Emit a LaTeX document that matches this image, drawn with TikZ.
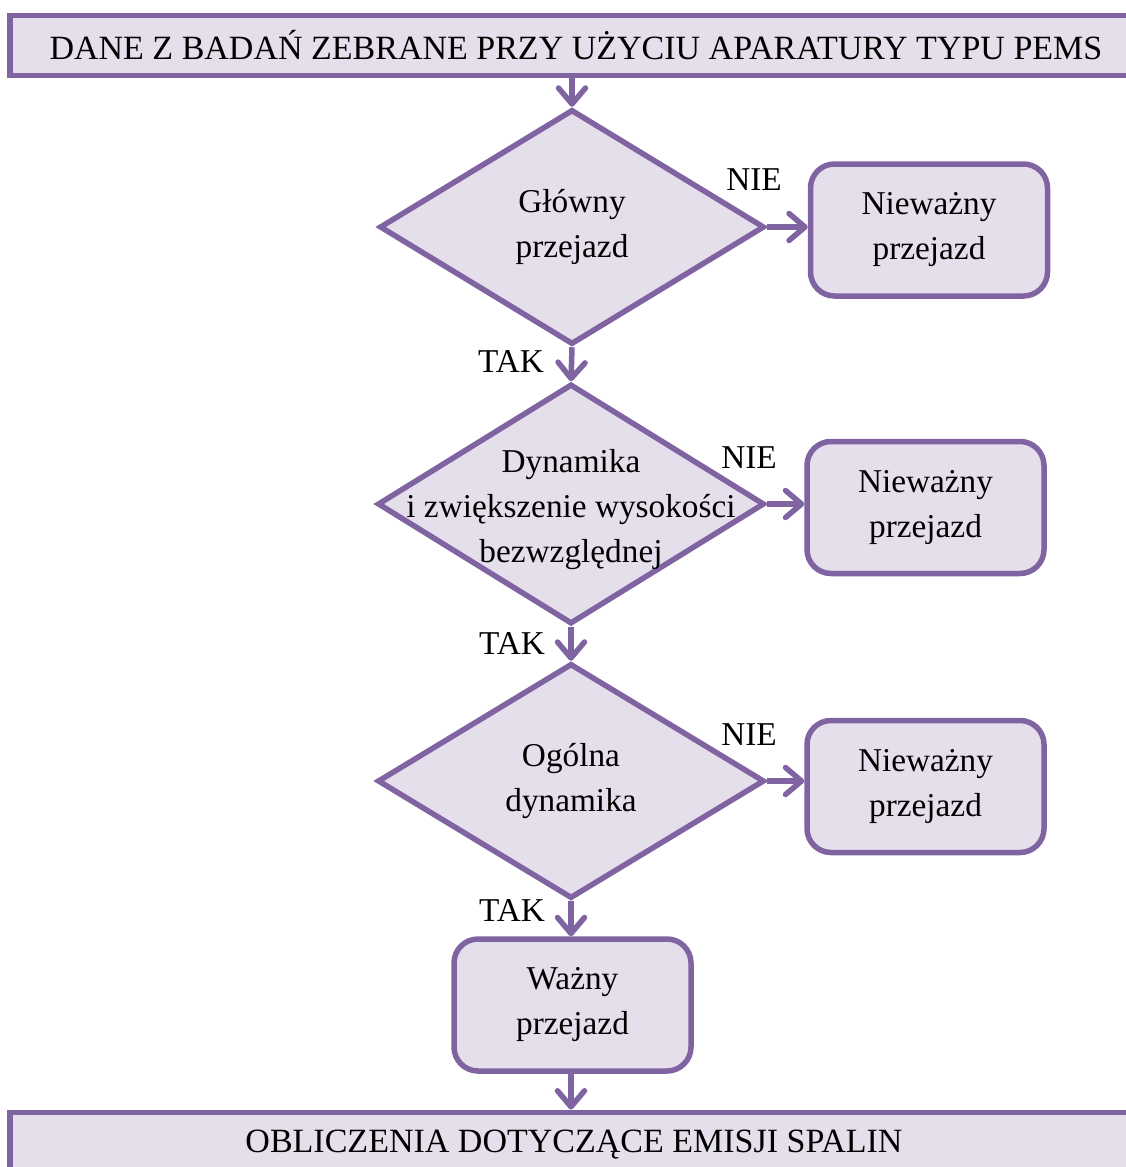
\documentclass[tikz,border=0pt]{standalone}
\usepackage{fontspec}
\setmainfont{Liberation Serif}
\usetikzlibrary{shapes.geometric,arrows.meta}
\definecolor{edge}{HTML}{8064A2}
\definecolor{paper}{HTML}{E5DFEC}

\begin{document}
\begin{tikzpicture}[x=1pt,y=1pt,
  every node/.style={font=\fontsize{33.3}{45}\selectfont, text=black},
  banner/.style={draw=edge, fill=paper, line width=5.5pt, inner sep=0pt,
    minimum width=1132pt, font=\fontsize{34}{45}\selectfont},
  decision/.style={draw=edge, fill=paper, line width=5.5pt, diamond,
    inner sep=0pt},
  outcome/.style={draw=edge, fill=paper, line width=5.5pt, rounded corners=24pt,
    minimum width=237pt, minimum height=132pt, align=center, inner sep=0pt},
  caption/.style={align=center, inner sep=0pt},
  flow/.style={draw=edge, line width=5.5pt,
    -{Straight Barb[length=16pt, width=27pt, round]}}]

\useasboundingbox (0,0) rectangle (1126,-1167);
\clip (0,0) rectangle (1126,-1167);

% header and footer bars
\node[banner, minimum height=60pt] (top) at (576,-45.5)
  {DANE Z BADAŃ ZEBRANE PRZY UŻYCIU APARATURY TYPU PEMS};
\node[banner, minimum height=68pt, anchor=north] (bottom) at (576,-1109.5) {};
\node[caption, font=\fontsize{34}{45}\selectfont] (bottomt) at (574,-1145)
  {OBLICZENIA DOTYCZĄCE EMISJI SPALIN};

% decisions
\node[decision, minimum width=385pt, minimum height=235pt] (d1) at (572,-227) {};
\node[caption] (d1t) at (d1) {Główny\\przejazd};
\node[decision, minimum width=387pt, minimum height=240pt] (d2) at (571,-504) {};
\node[caption] (d2t) at (571,-510) {Dynamika\\i zwiększenie wysokości\\bezwzględnej};
\node[decision, minimum width=387pt, minimum height=235pt] (d3) at (571,-781) {};
\node[caption] (d3t) at (d3) {Ogólna\\dynamika};

% outcomes
\node[outcome] (b1) at (929,-230) {Nieważny\\przejazd};
\node[outcome] (b2) at (925.5,-507.5) {Nieważny\\przejazd};
\node[outcome] (b3) at (925.5,-786.5) {Nieważny\\przejazd};
\node[outcome] (ok) at (572.5,-1005) {Ważny\\przejazd};

% connectors
\draw[flow] (d1.north |- top.south) -- (d1.north);
\draw[flow] (d1.south) -- (d2.north);
\draw[flow] (d2.south) -- (d3.north);
\draw[flow] (d3.south) -- (d3.south |- ok.north);
\draw[flow] (d3.south |- ok.south) -- (d3.south |- bottom.north);
\draw[flow] (d1.east) -- (b1.west |- d1.east);
\draw[flow] (d2.east) -- (b2.west |- d2.east);
\draw[flow] (d3.east) -- (b3.west |- d3.east);

% branch labels
\node[caption] (n1) at (754,-180) {NIE};
\node[caption] (n2) at (749,-458) {NIE};
\node[caption] (n3) at (749,-735) {NIE};
\node[caption] (t1) at (511,-362) {TAK};
\node[caption] (t2) at (512,-643) {TAK};
\node[caption] (t3) at (512,-910) {TAK};
\end{tikzpicture}
\end{document}
